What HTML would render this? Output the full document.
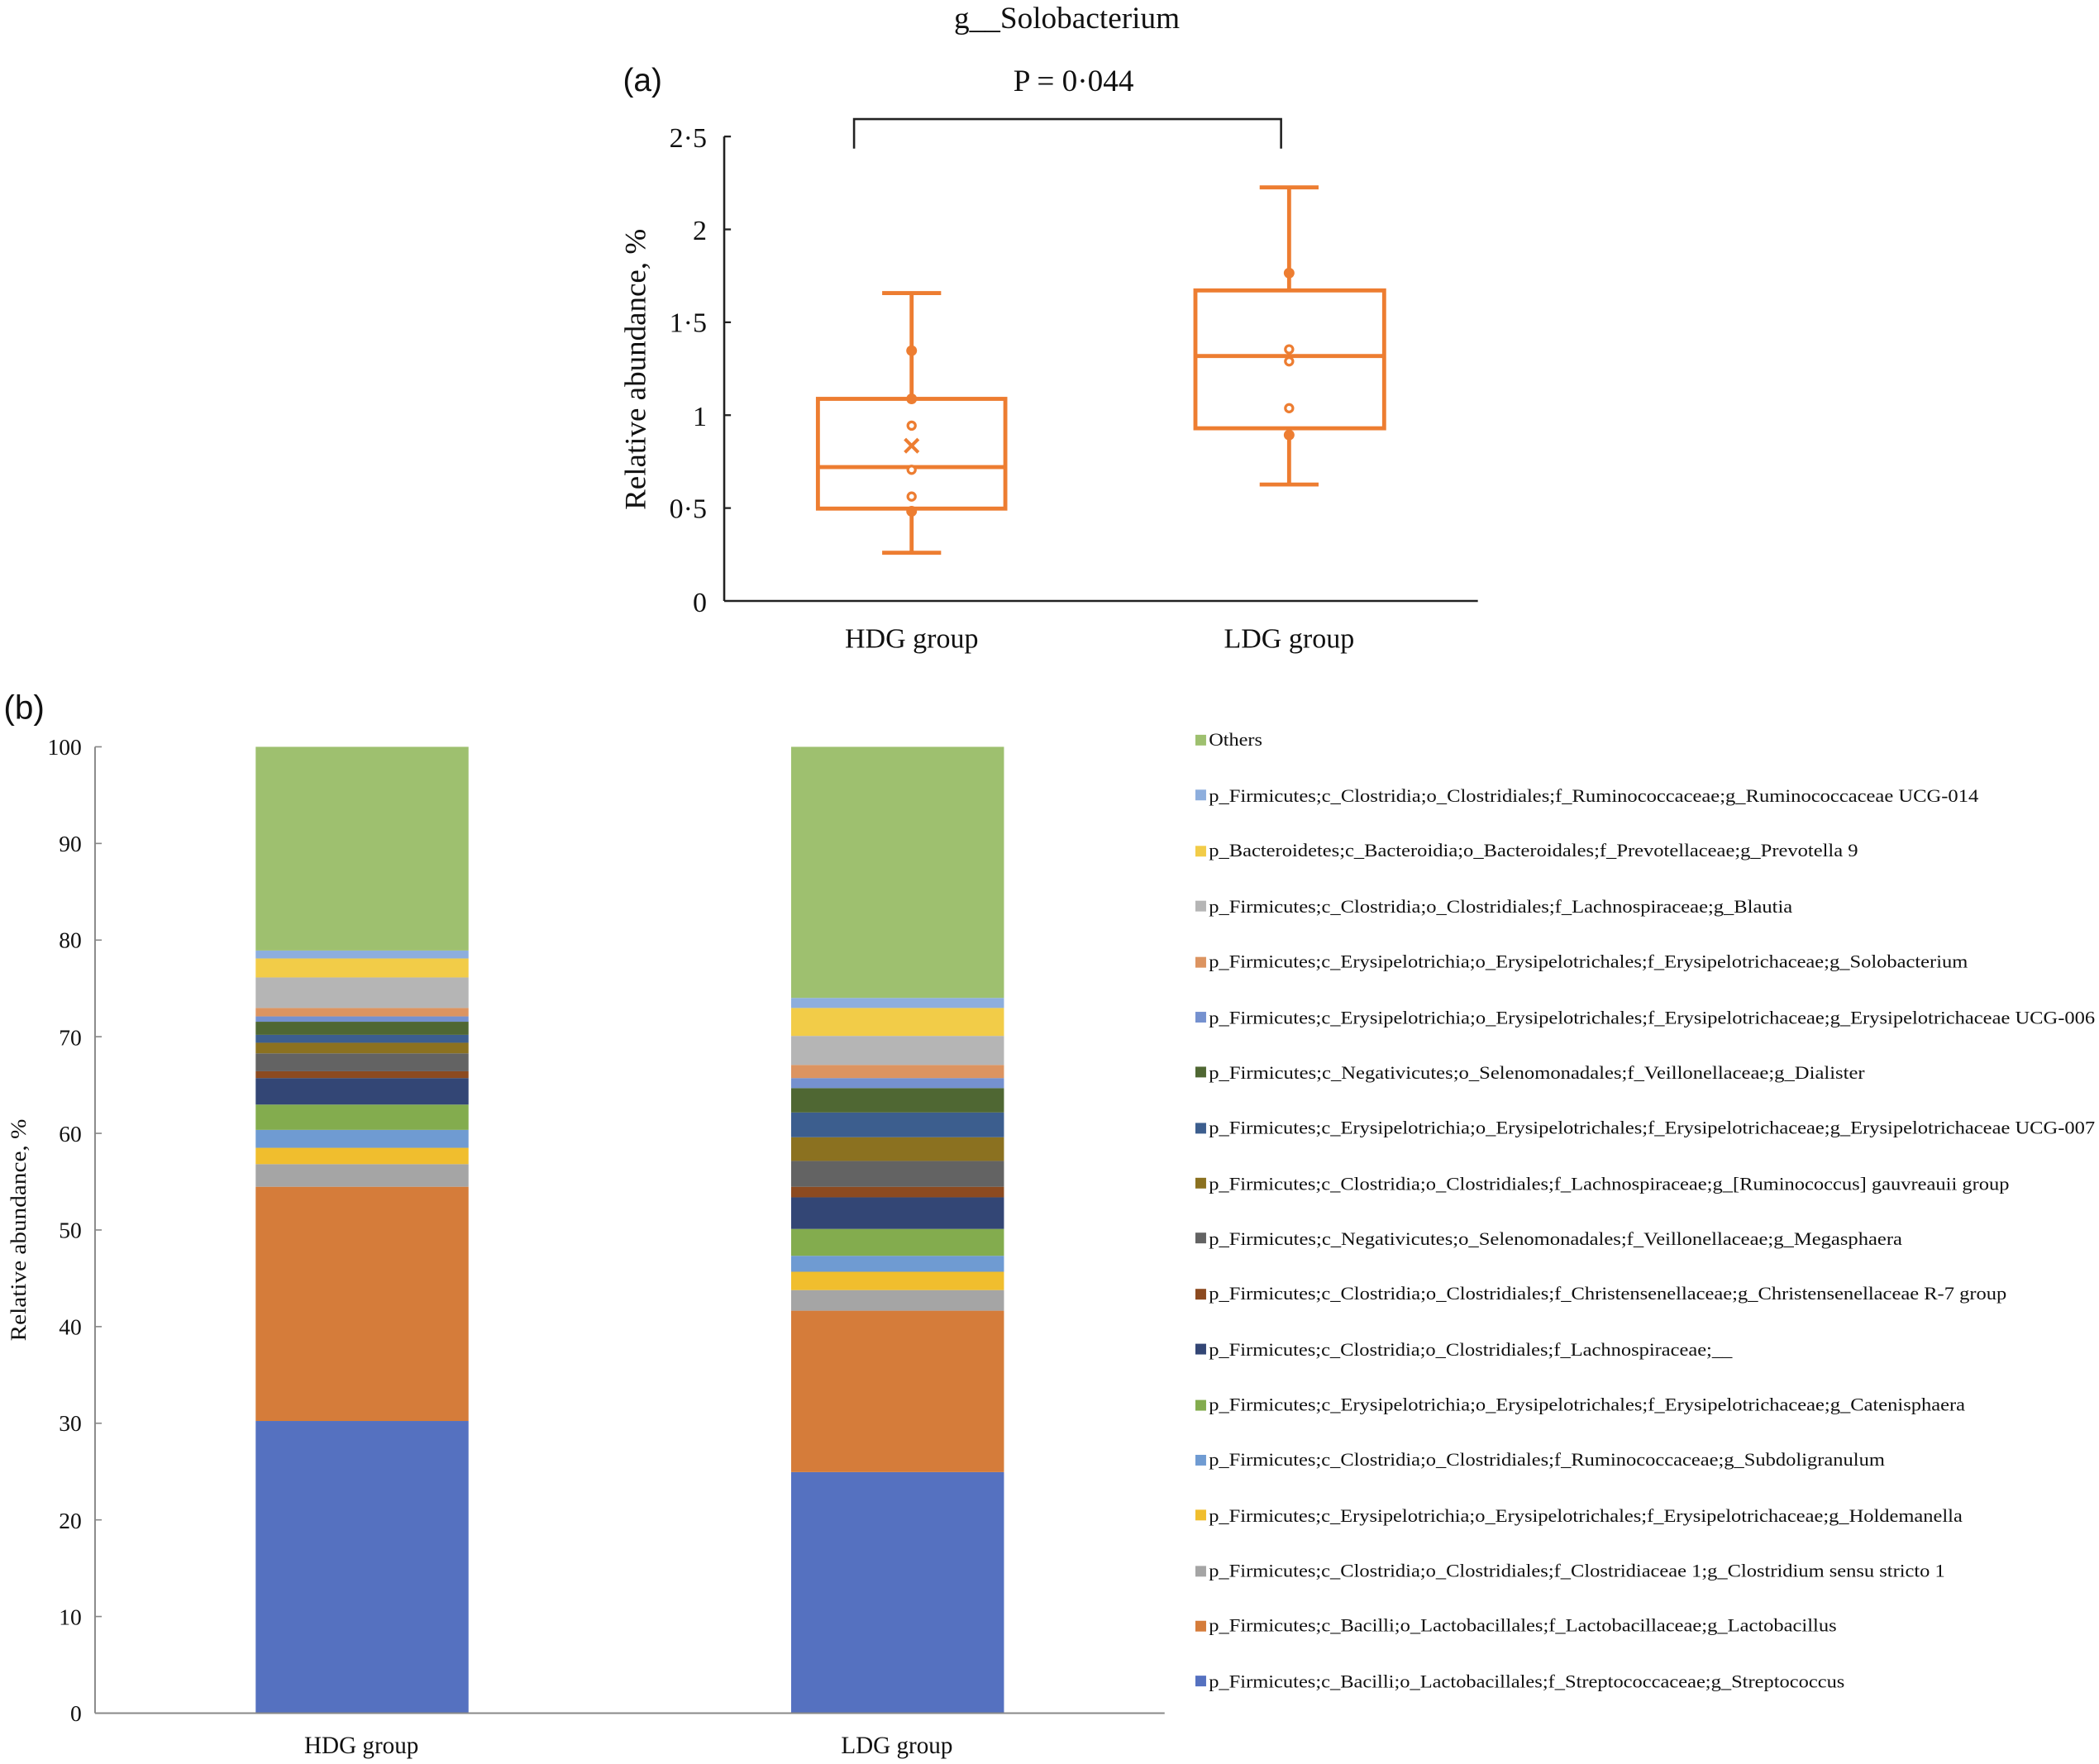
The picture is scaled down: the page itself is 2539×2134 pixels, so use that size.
<!DOCTYPE html>
<html><head><meta charset="utf-8"><style>
html,body{margin:0;padding:0;background:#fff;}
svg{display:block;}
svg text{font-family:"Liberation Serif","Times New Roman","DejaVu Serif",serif;fill:#111;}
svg text.sans{font-family:"Liberation Sans","DejaVu Sans",sans-serif;}
</style></head><body>
<svg width="2539" height="2134" viewBox="0 0 1568 1318" preserveAspectRatio="none" xmlns="http://www.w3.org/2000/svg" font-family="Liberation Serif, DejaVu Serif, serif">
<rect width="1568" height="1318" fill="#fff"/>
<!-- Panel (a) -->
<text x="797" y="21" font-size="23" text-anchor="middle">g__Solobacterium</text>
<text class="sans" x="480" y="68" font-size="24" text-anchor="middle">(a)</text>
<text x="802" y="68" font-size="23" text-anchor="middle">P = 0·044</text>
<polyline points="638,111 638,89 957,89 957,111" fill="none" stroke="#222" stroke-width="1.6"/>
<line x1="541" y1="102" x2="541" y2="449" stroke="#222" stroke-width="1.6"/>
<line x1="541" y1="449" x2="1104" y2="449" stroke="#222" stroke-width="1.6"/>
<g stroke="#222" stroke-width="1.4">
<line x1="541" y1="102" x2="546" y2="102"/><line x1="541" y1="171.4" x2="546" y2="171.4"/><line x1="541" y1="240.8" x2="546" y2="240.8"/><line x1="541" y1="310.2" x2="546" y2="310.2"/><line x1="541" y1="379.6" x2="546" y2="379.6"/>
</g>
<g font-size="21" text-anchor="end">
<text x="528" y="110">2·5</text><text x="528" y="179">2</text><text x="528" y="248">1·5</text><text x="528" y="318">1</text><text x="528" y="387">0·5</text><text x="528" y="457">0</text>
</g>
<text transform="translate(482,276) rotate(-90)" font-size="22" text-anchor="middle" textLength="210" lengthAdjust="spacingAndGlyphs">Relative abundance, %</text>
<text x="681" y="484" font-size="21" text-anchor="middle">HDG group</text>
<text x="963" y="484" font-size="21" text-anchor="middle">LDG group</text>
<g stroke="#ed7d31" stroke-width="3" fill="none">
<rect x="611" y="298" width="140" height="82"/>
<line x1="611" y1="349" x2="751" y2="349"/>
<line x1="681" y1="219" x2="681" y2="298"/><line x1="681" y1="380" x2="681" y2="413"/>
<line x1="659" y1="219" x2="703" y2="219"/><line x1="659" y1="413" x2="703" y2="413"/>
<rect x="893" y="217" width="141" height="103"/>
<line x1="893" y1="266" x2="1034" y2="266"/>
<line x1="963" y1="140" x2="963" y2="217"/><line x1="963" y1="320" x2="963" y2="362"/>
<line x1="941" y1="140" x2="985" y2="140"/><line x1="941" y1="362" x2="985" y2="362"/>
</g>
<g fill="#ed7d31">
<circle cx="681" cy="262" r="4"/><circle cx="681" cy="298" r="4"/><circle cx="681" cy="382" r="4"/>
<circle cx="963" cy="204" r="4"/><circle cx="963" cy="325" r="4"/>
</g>
<g fill="#fff" stroke="#ed7d31" stroke-width="2">
<circle cx="681" cy="318" r="2.8"/><circle cx="681" cy="351" r="2.8"/><circle cx="681" cy="371" r="2.8"/>
<circle cx="963" cy="261" r="2.8"/><circle cx="963" cy="270" r="2.8"/><circle cx="963" cy="305" r="2.8"/>
</g>
<g stroke="#ed7d31" stroke-width="2.5"><line x1="676" y1="328" x2="686" y2="338"/><line x1="686" y1="328" x2="676" y2="338"/></g>

<!-- Panel (b) -->
<text class="sans" x="18" y="537" font-size="25" text-anchor="middle">(b)</text>
<g>
<rect x="191" y="1061.7" width="159" height="218.3" fill="#5571c0"/>
<rect x="191" y="886.7" width="159" height="175" fill="#d57c3a"/>
<rect x="191" y="869.8" width="159" height="16.9" fill="#a5a5a5"/>
<rect x="191" y="857.6" width="159" height="12.2" fill="#f0be2e"/>
<rect x="191" y="844.2" width="159" height="13.4" fill="#6f9bd2"/>
<rect x="191" y="825.3" width="159" height="18.9" fill="#83ac4e"/>
<rect x="191" y="805.5" width="159" height="19.8" fill="#334675"/>
<rect x="191" y="800.4" width="159" height="5.1" fill="#8c4a20"/>
<rect x="191" y="787" width="159" height="13.4" fill="#636363"/>
<rect x="191" y="779.1" width="159" height="7.9" fill="#8b7120"/>
<rect x="191" y="773.2" width="159" height="5.9" fill="#3c5e8e"/>
<rect x="191" y="763.4" width="159" height="9.8" fill="#4f6733"/>
<rect x="191" y="759.4" width="159" height="4" fill="#7591cf"/>
<rect x="191" y="753.1" width="159" height="6.3" fill="#dc9461"/>
<rect x="191" y="730.3" width="159" height="22.8" fill="#b5b5b5"/>
<rect x="191" y="716.1" width="159" height="14.2" fill="#f2cc48"/>
<rect x="191" y="710.2" width="159" height="5.9" fill="#8daedd"/>
<rect x="191" y="558" width="159" height="152.2" fill="#9ec06f"/>
<rect x="591" y="1099.9" width="159" height="180.1" fill="#5571c0"/>
<rect x="591" y="979.3" width="159" height="120.6" fill="#d57c3a"/>
<rect x="591" y="963.9" width="159" height="15.4" fill="#a5a5a5"/>
<rect x="591" y="950.2" width="159" height="13.7" fill="#f0be2e"/>
<rect x="591" y="938.3" width="159" height="11.9" fill="#6f9bd2"/>
<rect x="591" y="918.2" width="159" height="20.1" fill="#83ac4e"/>
<rect x="591" y="894.6" width="159" height="23.6" fill="#334675"/>
<rect x="591" y="886.7" width="159" height="7.9" fill="#8c4a20"/>
<rect x="591" y="867.4" width="159" height="19.3" fill="#636363"/>
<rect x="591" y="849.7" width="159" height="17.7" fill="#8b7120"/>
<rect x="591" y="831.2" width="159" height="18.5" fill="#3c5e8e"/>
<rect x="591" y="813" width="159" height="18.2" fill="#4f6733"/>
<rect x="591" y="805.5" width="159" height="7.5" fill="#7591cf"/>
<rect x="591" y="795.7" width="159" height="9.8" fill="#dc9461"/>
<rect x="591" y="774" width="159" height="21.7" fill="#b5b5b5"/>
<rect x="591" y="753.1" width="159" height="20.9" fill="#f2cc48"/>
<rect x="591" y="745.6" width="159" height="7.5" fill="#8daedd"/>
<rect x="591" y="558" width="159" height="187.6" fill="#9ec06f"/>
</g>
<line x1="71" y1="558" x2="71" y2="1280" stroke="#888" stroke-width="1.2"/>
<line x1="71" y1="1280" x2="870" y2="1280" stroke="#888" stroke-width="1.2"/>
<g stroke="#888" stroke-width="1">
<line x1="71" y1="558" x2="76" y2="558"/><line x1="71" y1="630.2" x2="76" y2="630.2"/><line x1="71" y1="702.4" x2="76" y2="702.4"/><line x1="71" y1="774.6" x2="76" y2="774.6"/><line x1="71" y1="846.8" x2="76" y2="846.8"/><line x1="71" y1="919" x2="76" y2="919"/><line x1="71" y1="991.2" x2="76" y2="991.2"/><line x1="71" y1="1063.4" x2="76" y2="1063.4"/><line x1="71" y1="1135.6" x2="76" y2="1135.6"/><line x1="71" y1="1207.8" x2="76" y2="1207.8"/>
</g>
<g font-size="17" text-anchor="end">
<text x="61" y="564">100</text><text x="61" y="636">90</text><text x="61" y="708">80</text><text x="61" y="781">70</text><text x="61" y="853">60</text><text x="61" y="925">50</text><text x="61" y="997">40</text><text x="61" y="1069">30</text><text x="61" y="1142">20</text><text x="61" y="1214">10</text><text x="61" y="1286">0</text>
</g>
<text transform="translate(19,919) rotate(-90)" font-size="16" text-anchor="middle" textLength="166" lengthAdjust="spacingAndGlyphs">Relative abundance, %</text>
<text x="270" y="1310" font-size="18" text-anchor="middle">HDG group</text>
<text x="670" y="1310" font-size="18" text-anchor="middle">LDG group</text>
<g font-size="13.5">
<rect x="893" y="549" width="8" height="8" fill="#9ec06f"/><text x="903" y="557" textLength="40" lengthAdjust="spacingAndGlyphs">Others</text>
<rect x="893" y="590" width="8" height="8" fill="#8daedd"/><text x="903" y="599" textLength="575" lengthAdjust="spacingAndGlyphs">p_Firmicutes;c_Clostridia;o_Clostridiales;f_Ruminococcaceae;g_Ruminococcaceae UCG-014</text>
<rect x="893" y="632" width="8" height="8" fill="#f2cc48"/><text x="903" y="640" textLength="485" lengthAdjust="spacingAndGlyphs">p_Bacteroidetes;c_Bacteroidia;o_Bacteroidales;f_Prevotellaceae;g_Prevotella 9</text>
<rect x="893" y="673" width="8" height="8" fill="#b5b5b5"/><text x="903" y="682" textLength="436" lengthAdjust="spacingAndGlyphs">p_Firmicutes;c_Clostridia;o_Clostridiales;f_Lachnospiraceae;g_Blautia</text>
<rect x="893" y="715" width="8" height="8" fill="#dc9461"/><text x="903" y="723" textLength="567" lengthAdjust="spacingAndGlyphs">p_Firmicutes;c_Erysipelotrichia;o_Erysipelotrichales;f_Erysipelotrichaceae;g_Solobacterium</text>
<rect x="893" y="756" width="8" height="8" fill="#7591cf"/><text x="903" y="765" textLength="662" lengthAdjust="spacingAndGlyphs">p_Firmicutes;c_Erysipelotrichia;o_Erysipelotrichales;f_Erysipelotrichaceae;g_Erysipelotrichaceae UCG-006</text>
<rect x="893" y="797" width="8" height="8" fill="#4f6733"/><text x="903" y="806" textLength="490" lengthAdjust="spacingAndGlyphs">p_Firmicutes;c_Negativicutes;o_Selenomonadales;f_Veillonellaceae;g_Dialister</text>
<rect x="893" y="839" width="8" height="8" fill="#3c5e8e"/><text x="903" y="847" textLength="662" lengthAdjust="spacingAndGlyphs">p_Firmicutes;c_Erysipelotrichia;o_Erysipelotrichales;f_Erysipelotrichaceae;g_Erysipelotrichaceae UCG-007</text>
<rect x="893" y="880" width="8" height="8" fill="#8b7120"/><text x="903" y="889" textLength="598" lengthAdjust="spacingAndGlyphs">p_Firmicutes;c_Clostridia;o_Clostridiales;f_Lachnospiraceae;g_[Ruminococcus] gauvreauii group</text>
<rect x="893" y="921" width="8" height="8" fill="#636363"/><text x="903" y="930" textLength="518" lengthAdjust="spacingAndGlyphs">p_Firmicutes;c_Negativicutes;o_Selenomonadales;f_Veillonellaceae;g_Megasphaera</text>
<rect x="893" y="963" width="8" height="8" fill="#8c4a20"/><text x="903" y="971" textLength="596" lengthAdjust="spacingAndGlyphs">p_Firmicutes;c_Clostridia;o_Clostridiales;f_Christensenellaceae;g_Christensenellaceae R-7 group</text>
<rect x="893" y="1004" width="8" height="8" fill="#334675"/><text x="903" y="1013" textLength="391" lengthAdjust="spacingAndGlyphs">p_Firmicutes;c_Clostridia;o_Clostridiales;f_Lachnospiraceae;__</text>
<rect x="893" y="1046" width="8" height="8" fill="#83ac4e"/><text x="903" y="1054" textLength="565" lengthAdjust="spacingAndGlyphs">p_Firmicutes;c_Erysipelotrichia;o_Erysipelotrichales;f_Erysipelotrichaceae;g_Catenisphaera</text>
<rect x="893" y="1087" width="8" height="8" fill="#6f9bd2"/><text x="903" y="1095" textLength="505" lengthAdjust="spacingAndGlyphs">p_Firmicutes;c_Clostridia;o_Clostridiales;f_Ruminococcaceae;g_Subdoligranulum</text>
<rect x="893" y="1128" width="8" height="8" fill="#f0be2e"/><text x="903" y="1137" textLength="563" lengthAdjust="spacingAndGlyphs">p_Firmicutes;c_Erysipelotrichia;o_Erysipelotrichales;f_Erysipelotrichaceae;g_Holdemanella</text>
<rect x="893" y="1170" width="8" height="8" fill="#a5a5a5"/><text x="903" y="1178" textLength="550" lengthAdjust="spacingAndGlyphs">p_Firmicutes;c_Clostridia;o_Clostridiales;f_Clostridiaceae 1;g_Clostridium sensu stricto 1</text>
<rect x="893" y="1211" width="8" height="8" fill="#d57c3a"/><text x="903" y="1219" textLength="469" lengthAdjust="spacingAndGlyphs">p_Firmicutes;c_Bacilli;o_Lactobacillales;f_Lactobacillaceae;g_Lactobacillus</text>
<rect x="893" y="1252" width="8" height="8" fill="#5571c0"/><text x="903" y="1261" textLength="475" lengthAdjust="spacingAndGlyphs">p_Firmicutes;c_Bacilli;o_Lactobacillales;f_Streptococcaceae;g_Streptococcus</text>
</g>
</svg>
</body></html>
